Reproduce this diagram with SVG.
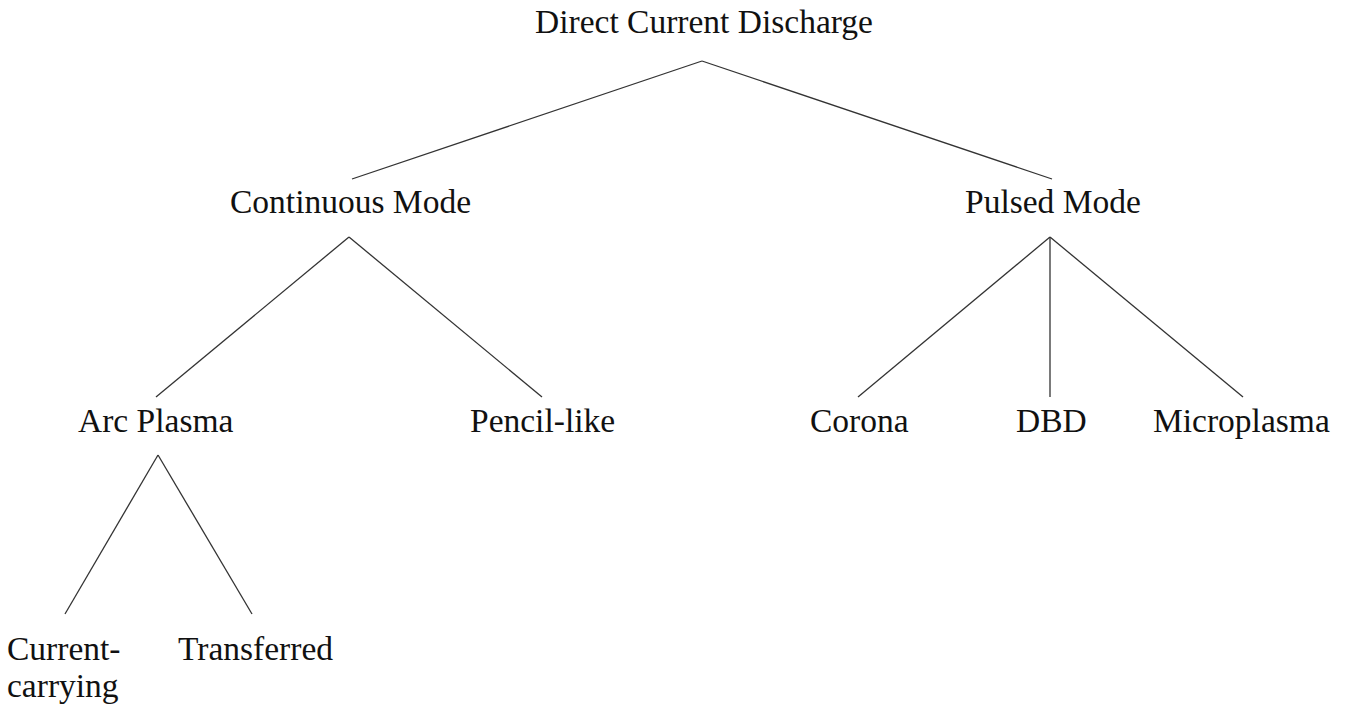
<svg xmlns="http://www.w3.org/2000/svg" width="1351" height="708" viewBox="0 0 1351 708">
<style>
text{font-family:"Liberation Serif","Times New Roman",serif;font-size:33.5px;fill:#111}
.c line{stroke:#333;stroke-width:1.3;fill:none}
</style>
<rect width="1351" height="708" fill="#fff"/>
<g class="c" id="connectors">
<line x1="702" y1="61" x2="352" y2="179"/>
<line x1="702" y1="61" x2="1052" y2="179"/>
<line x1="349" y1="237" x2="156" y2="397"/>
<line x1="349" y1="237" x2="542" y2="397"/>
<line x1="1050" y1="237" x2="858" y2="397"/>
<line x1="1050" y1="237" x2="1050" y2="397"/>
<line x1="1050" y1="237" x2="1243" y2="397"/>
<line x1="158" y1="455" x2="65" y2="614"/>
<line x1="158" y1="455" x2="252" y2="614"/>
</g>
<g id="n-root"><text x="535" y="33">Direct Current Discharge</text></g>
<g id="n-continuous"><text x="230" y="213">Continuous Mode</text></g>
<g id="n-pulsed"><text x="965" y="213">Pulsed Mode</text></g>
<g id="n-arc"><text x="78" y="432">Arc Plasma</text></g>
<g id="n-pencil"><text x="470" y="432">Pencil-like</text></g>
<g id="n-corona"><text x="810" y="432">Corona</text></g>
<g id="n-dbd"><text x="1016" y="432">DBD</text></g>
<g id="n-micro"><text x="1153" y="432">Microplasma</text></g>
<g id="n-current"><text x="7" y="660">Current-</text><text x="7" y="697">carrying</text></g>
<g id="n-transferred"><text x="178" y="660">Transferred</text></g>
</svg>
